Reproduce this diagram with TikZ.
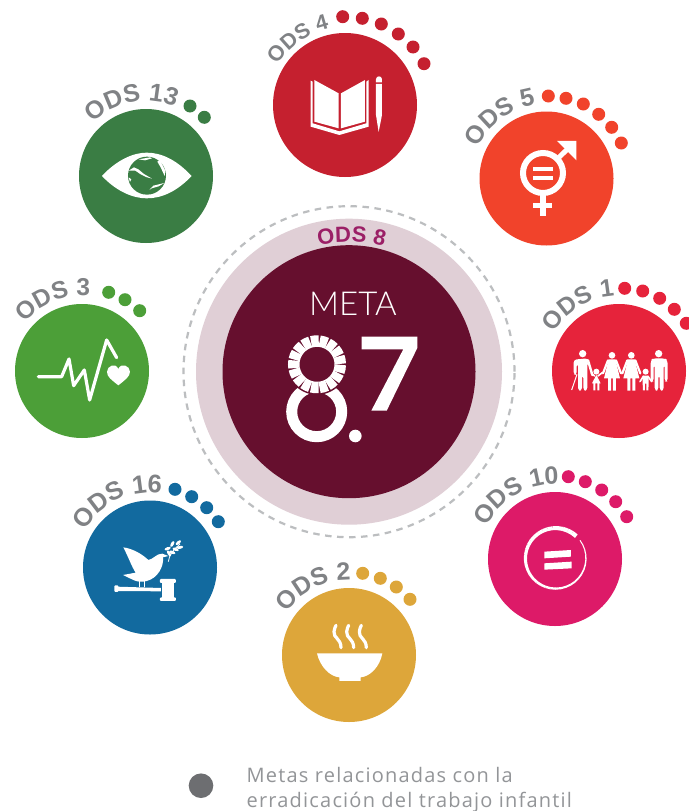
\documentclass[tikz,border=0pt]{standalone}
\usepackage{fontspec}
\setmainfont{Liberation Sans}
\newfontfamily\metafont{Lato Light}
\newfontfamily\legendfont[LetterSpace=6]{Open Sans}
\usetikzlibrary{decorations.text}
\definecolor{cfour}{HTML}{C5202F}
\definecolor{cthirteen}{HTML}{3A7D44}
\definecolor{cfive}{HTML}{F1432B}
\definecolor{cone}{HTML}{E6233B}
\definecolor{cten}{HTML}{DD1A68}
\definecolor{ctwo}{HTML}{DDA63A}
\definecolor{csixteen}{HTML}{126A9F}
\definecolor{cthree}{HTML}{4C9F38}
\definecolor{ccore}{HTML}{660F2E}
\definecolor{cring}{HTML}{E0CFD6}
\definecolor{ceight}{HTML}{9B1F66}
\definecolor{odsgray}{HTML}{808285}
\definecolor{dashgray}{HTML}{BCBEC0}
\definecolor{legdot}{HTML}{6D6E71}
\definecolor{legtext}{HTML}{939598}
\tikzset{
 goal/.style={circle,fill=#1,minimum size=134pt,inner sep=0pt,draw=none},
 gdot/.style={circle,fill=#1,minimum size=13pt,inner sep=0pt,draw=none},
 ic/.style={x=0.3333pt,y=-0.3333pt},
 wl/.style={white,line width=#1,line cap=round,line join=round},
}
% cx cy R a1 a2 size colour text
\newcommand{\arclabel}[8]{%
 \path[decorate,decoration={text along path,text={|\bfseries\fontsize{#6}{#6}\selectfont\color{#7}|#8}}]
 plot[domain=#4:#5,samples=50,variable=\t] ({#1+#3*cos(\t)},{#2-#3*sin(\t)});}
\begin{document}
\begin{tikzpicture}[x=1pt,y=-1pt]
\useasboundingbox (0,0) rectangle (688,811);
\fill[white] (0,0) rectangle (688,811);
% centre
\node[circle,draw=dashgray,line width=2.2pt,dash pattern=on 6.5pt off 5.5pt,minimum size=331pt,inner sep=0pt] (halo) at (349,371.7) {};
\node[circle,fill=cring,minimum size=306pt,inner sep=0pt] (ring) at (349,371.7) {};
\node[circle,fill=ccore,minimum size=253pt,inner sep=0pt] (core) at (349,371.7) {};
\arclabel{349}{371.7}{130}{103.5}{50}{22}{ceight}{ODS 8}
\node[text=white,font=\metafont\fontsize{33}{33}\selectfont,inner sep=0pt] (meta) at (353,304) {META};
% 8
\draw[white,line width=11pt] (316.7,411.7) circle[radius=25pt];
\fill[ccore] (317,364.3) circle[radius=30.5pt];
\begin{scope}[shift={(317,364.3)},x=1pt,y=1pt]
\foreach \i in {0,...,16}{
 \pgfmathsetmacro\a{\i*360/17+1}
 \draw[white,line width=11.5pt] (\a:23.25pt) arc[start angle=\a,delta angle=19,radius=23.25pt];
}
\end{scope}
\node[circle,fill=white,minimum size=12.6pt,inner sep=0pt] (point) at (355.3,436) {};
\fill[white] (361.7,336.7) -- (417.3,336.7) -- (417.3,348) -- (386.7,410.7) -- (371.3,410.7) -- (403.3,349.3) -- (361.7,349.3) -- cycle;
% goal discs
\node[goal=cfour,minimum size=144pt] (g4) at (345,105) {};
\node[goal=cthirteen] (g13) at (146,176) {};
\node[goal=cfive] (g5) at (546.5,178.5) {};
\node[goal=cone] (g1) at (619,371) {};
\node[goal=cten] (g10) at (555,559) {};
\node[goal=ctwo] (g2) at (349,655) {};
\node[goal=csixteen] (g16) at (150,567.5) {};
\node[goal=cthree] (g3) at (82,371) {};
% labels
\arclabel{345}{105}{78}{149}{60}{21.5}{odsgray}{ODS 4}
\arclabel{146}{176}{75}{135}{20}{25}{odsgray}{ODS 13}
\arclabel{546.5}{178.5}{75}{155.5}{50}{25}{odsgray}{ODS 5}
\arclabel{619}{371}{75}{149.5}{50}{24.5}{odsgray}{ODS 1}
\arclabel{555}{559}{75}{155}{40}{25}{odsgray}{ODS 10}
\arclabel{349}{655}{75}{146}{40}{25}{odsgray}{ODS 2}
\arclabel{150}{567.5}{75}{150.5}{30}{25.5}{odsgray}{ODS 16}
\arclabel{82}{371}{75}{140}{30}{24.5}{odsgray}{ODS 3}
% dots
\foreach \n/\p in {a/{342.7,16.7},b/{362.3,18.3},c/{381.3,24},d/{398.3,34},e/{413,47},f/{424,63.7}} \node[gdot=cfour] (d4\n) at (\p) {};
\foreach \n/\p in {a/{190,106},b/{204.3,117.3}} \node[gdot=cthirteen] (d13\n) at (\p) {};
\foreach \n/\p in {a/{548.3,96},b/{566,98.3},c/{583.3,104},d/{598.7,114.3},e/{611.7,127.3},f/{621.3,143}} \node[gdot=cfive] (d5\n) at (\p) {};
\foreach \n/\p in {a/{624.7,288.3},b/{642.7,291},c/{659.7,298.3},d/{674.3,309.3},e/{686.3,323.3}} \node[gdot=cone] (d1\n) at (\p) {};
\foreach \n/\p in {a/{568.3,476.7},b/{585.3,481.7},c/{601.7,490},d/{615.7,501.7},e/{626.7,516.7}} \node[gdot=cten] (d10\n) at (\p) {};
\foreach \n/\p in {a/{362.7,573.3},b/{380.3,578.3},c/{396.3,587},d/{410,599.3}} \node[gdot=ctwo] (d2\n) at (\p) {};
\foreach \n/\p in {a/{175,489.3},b/{191.7,496.7},c/{206.7,507.7},d/{218.3,521.7}} \node[gdot=csixteen] (d16\n) at (\p) {};
\foreach \n/\p in {a/{108.7,292.3},b/{125,299.7},c/{139.7,310.7}} \node[gdot=cthree] (d3\n) at (\p) {};
% ODS 4 icon
\begin{scope}[shift={(260,0)},ic]
\fill[white] (163,240) -- (236,280) -- (236,385) -- (163,365) -- cycle;
\fill[white] (243,280) -- (315,240) -- (315,365) -- (243,385) -- cycle;
\fill[white] (152,242) -- (158,245) -- (158,370) -- (238,394) -- (319,370) -- (319,245) -- (326,240) -- (326,380) -- (238,405) -- (152,380) -- cycle;
\fill[white] (348,247) -- (348,238) .. controls (348,226) and (366,226) .. (366,238) -- (366,247) -- cycle;
\fill[white] (348,252) -- (366,252) -- (366,345) -- (356,396) -- (348,345) -- cycle;
\end{scope}
% ODS 13 icon
\begin{scope}[shift={(70,80)},ic]
\fill[white] (96,288) .. controls (140,240) and (190,218) .. (230,218) .. controls (275,218) and (320,240) .. (365,288) .. controls (320,335) and (275,355) .. (230,355) .. controls (190,355) and (140,335) .. (96,288) -- cycle;
\fill[cthirteen] (231,287) circle[radius=19pt];
\fill[white] (176,272) -- (192,262) -- (205,268) -- (222,282) -- (246,296) -- (228,291) -- (212,283) -- (196,272) -- cycle;
\fill[white] (206,238) -- (240,232) -- (246,235) -- (225,241) -- cycle;
\fill[white] (262,245) -- (270,240) -- (286,272) -- (284,288) -- (272,262) -- cycle;
\fill[white] (238,330) -- (250,317) -- (283,309) -- (266,319) -- (245,325) -- cycle;
\fill[white] (176,292) -- (184,298) -- (180,306) -- cycle;
\end{scope}
% ODS 5 icon
\begin{scope}[shift={(460,85)},ic]
\draw[white,line width=6pt] (249,264) circle[radius=20pt];
\fill[white] (219,245) rectangle (279,257);
\fill[white] (219,273) rectangle (279,285);
\draw[white,line width=5pt] (296,218) -- (328,187);
\fill[white] (291,168) -- (349,168) -- (349,226) -- cycle;
\draw[white,line width=5.3pt] (249,330) -- (249,393);
\draw[white,line width=5pt] (220,362) -- (277,362);
\end{scope}
% ODS 1 icon
\begin{scope}[shift={(538,275)},ic]
\foreach \c/\r/\y in {134/11/236,175/9/290,222/10/241,280/10/241,323/9/290,362/11/236} \fill[white] (\c,\y) circle[radius=\r/3*1pt];
% left man
\fill[white,rounded corners=3pt] (107,300) -- (107,254) -- (150,250) -- (156,262) -- (148,262) -- (148,347) -- (136,347) -- (136,300) -- (132,300) -- (132,347) -- (120,347) -- (120,265) -- (116,265) -- (116,300) -- cycle;
\draw[white,line width=1pt] (101,345) -- (117,298);
\draw[wl=2.4pt] (150,256) -- (163,300);
% child 1
\fill[white] (175,300) -- (188,325) -- (184,325) -- (184,346) -- (178,346) -- (178,325) -- (172,325) -- (172,346) -- (166,346) -- (166,325) -- (162,325) -- cycle;
\draw[wl=1.6pt] (170,303) -- (160,295);
\draw[wl=1.6pt] (180,303) -- (194,292);
% women
\foreach \c in {222,280}{
 \fill[white] (\c-10,253) -- (\c+10,253) -- (\c+24,310) -- (\c+12,310) -- (\c+12,347) -- (\c+3,347) -- (\c+3,310) -- (\c-3,310) -- (\c-3,347) -- (\c-12,347) -- (\c-12,310) -- (\c-24,310) -- cycle;
 \draw[wl=2.2pt] (\c-12,256) -- (\c-27,295);
 \draw[wl=2.2pt] (\c+12,256) -- (\c+27,295);
}
% child 2
\fill[white] (314,302) -- (332,302) -- (332,325) -- (331,346) -- (325,346) -- (325,326) -- (321,326) -- (321,346) -- (315,346) -- (314,325) -- cycle;
\draw[wl=1.6pt] (316,304) -- (306,320);
\draw[wl=1.6pt] (330,304) -- (341,320);
% right man
\fill[white,rounded corners=3pt] (338,320) -- (338,256) -- (346,250) -- (380,250) -- (389,256) -- (389,320) -- (380,320) -- (380,268) -- (377,268) -- (377,347) -- (365,347) -- (365,300) -- (361,300) -- (361,347) -- (350,347) -- (350,268) -- (347,268) -- (347,320) -- cycle;
\end{scope}
% ODS 10 icon
\begin{scope}[shift={(465,460)},ic]
\fill[white] (238,275) -- (318,270) -- (318,290) -- (238,295) -- cycle;
\fill[white] (238,310) -- (320,305) -- (320,325) -- (238,329) -- cycle;
\end{scope}
\begin{scope}[shift={(555.67,558.33)},x=1pt,y=1pt]
\foreach \i in {0,...,35}{
 \pgfmathsetmacro\a{47+\i*9.7}
 \pgfmathsetmacro\w{4.4-\i*3.4/35}
 \draw[white,line width=\w pt] (\a:30.3pt) arc[start angle=\a,delta angle=10,radius=30.3pt];
}
\end{scope}
% ODS 2 icon
\begin{scope}[shift={(270,560)},ic]
\foreach \d in {0,38,76}
 \draw[wl=3.2pt] (213+\d-0,263) .. controls (213+\d,235) and (190+\d,235) .. (192+\d,215) .. controls (193+\d,206) and (196+\d,200) .. (198+\d,196);
\fill[white] (141,280) -- (337,280) .. controls (330,320) and (300,350) .. (272,352) -- (272,363) -- (208,363) -- (208,352) .. controls (180,350) and (150,320) .. (141,280) -- cycle;
\end{scope}
% ODS 16 icon
\begin{scope}[shift={(65,470)},ic]
\fill[white] (175,232) .. controls (205,236) and (235,255) .. (250,270) .. controls (265,268) and (275,250) .. (292,251) -- (310,258) -- (294,262) .. controls (297,290) and (278,325) .. (245,333) .. controls (232,337) and (218,336) .. (205,330) -- (174,315) -- (212,308) .. controls (200,290) and (192,265) .. (175,232) -- cycle;
\draw[white,line width=1pt] (225,332) -- (225,352);
\draw[white,line width=1pt] (238,332) -- (238,352);
\fill[white] (155,350) -- (288,354) -- (288,364) -- (155,363) -- cycle;
\fill[white,rounded corners=1pt] (148,346) rectangle (160,366);
\fill[white] (292,330) rectangle (326,392);
\fill[white,rounded corners=1pt] (285,327) rectangle (333,339);
\fill[white,rounded corners=1pt] (285,382) rectangle (333,393);
\draw[white,line width=0.8pt] (310,275) .. controls (312,255) and (325,240) .. (345,222);
\foreach \x/\y/\r in {308/236/20,322/222/60,340/218/40,345/232/10,322/247/-20,312/250/-60,332/238/-20}
 \fill[white] (\x,\y) ellipse[x radius=3.2pt,y radius=1.5pt,rotate=\r];
\end{scope}
% ODS 3 icon
\begin{scope}[shift={(5,275)},ic]
\draw[wl=3.2pt] (100,305) -- (170,305) -- (192,252) -- (206,332) -- (238,285) -- (254,375) -- (305,195) -- (335,248);
\fill[white] (340,331) .. controls (320,315) and (305,305) .. (306,290) .. controls (307,272) and (332,262) .. (340,282) .. controls (348,262) and (375,272) .. (375,290) .. controls (375,305) and (360,315) .. (340,331) -- cycle;
\end{scope}
% legend
\node[circle,fill=legdot,minimum size=24.6pt,inner sep=0pt] (legdot) at (201,785.7) {};
\node[anchor=north west,inner sep=0pt,align=left,text=legtext,font=\legendfont\fontsize{20}{25}\selectfont] (legtxt) at (246.5,767) {Metas relacionadas con la\\erradicación del trabajo infantil};
\end{tikzpicture}
\end{document}
